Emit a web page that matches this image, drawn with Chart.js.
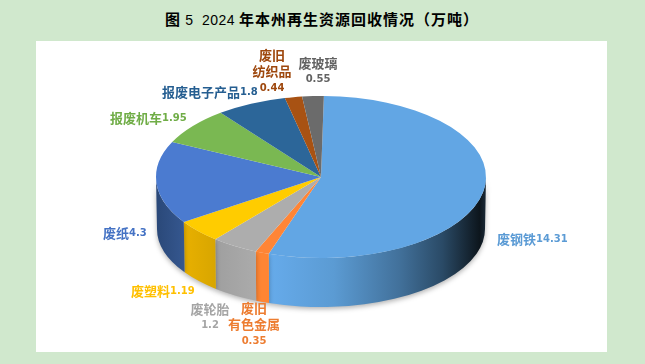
<!DOCTYPE html>
<html>
<head>
<meta charset="utf-8">
<script src="https://cdn.jsdelivr.net/npm/chart.js@4/dist/chart.umd.min.js"></script>
<style>
    html, body { margin: 0; padding: 0; background: #d0e8cd; }
    #wrap { position: relative; width: 645px; height: 364px; overflow: hidden; }
    #panel { position: absolute; left: 36px; top: 41px; width: 571px; height: 311px; background: #fff; }
    #pie3d { position: absolute; left: 0; top: 0; }
    #title { position: absolute; left: 165px; top: 8px; white-space: nowrap; color: #000;
        font: bold 15px/22px "Noto Sans CJK SC"; letter-spacing: 1px; }
    #title .num { font: normal 14px/22px "Liberation Sans"; letter-spacing: 0.4px; }
</style>
</head>
<body>
<div id="wrap">
    <div id="panel"></div>
    <div id="title">图<span class="num">&nbsp;5&nbsp; 2024 </span>年本州再生资源回收情况（万吨）</div>
    <canvas id="pie3d" width="645" height="364"></canvas>
</div>
<script>
// 数据（顺时针，从正上方开始）
const categories = ["废钢铁", "废旧\n有色金属", "废轮胎", "废塑料", "废纸", "报废机车", "报废电子产品", "废旧\n纺织品", "废玻璃"];
const values = [14.31, 0.35, 1.2, 1.19, 4.3, 1.95, 1.8, 0.44, 0.55];
const sliceColors = ["#62a6e4", "#ff8536", "#adadad", "#ffcc00", "#4b7bd0", "#7ab852", "#2c6699", "#a85213", "#6b6b6b"];
const labelColors = ["#5b9bd5", "#ed7d31", "#a5a5a5", "#ffc000", "#4472c4", "#70ad47", "#255e91", "#9e480e", "#636363"];

// 侧面渐变（从左到右）
const wallStops = [
    [[0, "#66abeb"], [0.3, "#5b9bd3"], [0.6, "#42719b"], [0.8, "#2a4a66"], [0.97, "#0d161d"], [1, "#1a2a38"]],
    [[0, "#ff8533"], [1, "#ff8533"]],
    [[0, "#9f9f9f"], [1, "#ababab"]],
    [[0, "#e8b000"], [1, "#d8a600"]],
    [[0, "#2a4878"], [1, "#35578f"]],
];

// 标签位置：x, y, 是否换行居中
const labelLayout = [
    [497, 239, false], [254, 308, true], [210, 309, true], [131, 291, false], [103, 233, false],
    [110, 118, false], [162, 92, false], [272, 55, true], [318, 63, true],
];

const pieCenterX = 321;
const pieCenterY = 177;
const squash = 81 / 165;
const wallCenterY = 229;  // 底面椭圆
const wallRadiusY = 78;

const cjkFont = 'bold 13px "Noto Sans CJK SC"';
const numFont = 'bold 10px "DejaVu Sans"';

// 把圆压成椭圆
const flattenPlugin = {
    id: "flatten",
    beforeDatasetsDraw(chart) {
        const ctx = chart.ctx;
        const arcs = chart.getDatasetMeta(0).data;
        const cx = arcs[0].x;
        const cy = arcs[0].y;
        const r = arcs[0].outerRadius;
        const ry = r * squash;

        // 前半圈的侧面
        ctx.save();
        ctx.shadowColor = "rgba(0,0,0,0.3)";
        ctx.shadowBlur = 5;
        ctx.shadowOffsetY = 2;
        arcs.forEach((arc, i) => {
            const a0 = Math.max(arc.startAngle, 0);
            const a1 = Math.min(arc.endAngle, Math.PI);
            if (a1 <= a0) return;
            const x0 = cx + r * Math.cos(a1);
            const x1 = cx + r * Math.cos(a0);
            const grad = ctx.createLinearGradient(x0, 0, x1, 0);
            wallStops[i].forEach((s) => grad.addColorStop(s[0], s[1]));
            ctx.fillStyle = grad;
            ctx.beginPath();
            ctx.ellipse(cx, pieCenterY, r, ry, 0, a0, a1);
            ctx.ellipse(cx, wallCenterY, r - 1, wallRadiusY, 0, a1, a0, true);
            ctx.closePath();
            ctx.fill();
        });
        ctx.restore();

        ctx.save();
        ctx.translate(cx, pieCenterY);
        ctx.scale(1, squash);
        ctx.translate(-cx, -cy);
    },
    afterDatasetsDraw(chart) {
        chart.ctx.restore();
        drawLabels(chart.ctx);
    },
};

function drawLabels(ctx) {
    ctx.save();
    ctx.textBaseline = "middle";
    categories.forEach((name, i) => {
        const [x, y, stacked] = labelLayout[i];
        ctx.fillStyle = labelColors[i];
        if (stacked) {
            ctx.textAlign = "center";
            const lines = name.split("\n");
            ctx.font = cjkFont;
            lines.forEach((line, n) => ctx.fillText(line, x, y + n * 16.5));
            ctx.font = numFont;
            ctx.fillText(String(values[i]), x, y + lines.length * 16.5);
        } else {
            ctx.textAlign = "left";
            ctx.font = cjkFont;
            ctx.fillText(name, x, y);
            const w = ctx.measureText(name).width;
            ctx.font = numFont;
            ctx.fillText(String(values[i]), x + w, y);
        }
    });
    ctx.restore();
}

new Chart(document.getElementById("pie3d").getContext("2d"), {
    type: "pie",
    data: {
        labels: categories,
        datasets: [{ data: values, backgroundColor: sliceColors, borderWidth: 0 }],
    },
    options: {
        responsive: false,
        animation: false,
        rotation: 1,
        layout: { padding: { left: pieCenterX - 165, right: 645 - pieCenterX - 165, top: 17, bottom: 17 } },
        plugins: { legend: { display: false }, tooltip: { enabled: false } },
    },
    plugins: [flattenPlugin],
});
</script>
</body>
</html>
